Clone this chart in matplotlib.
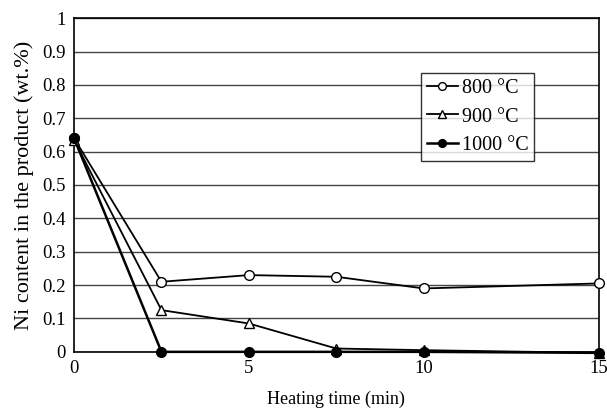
import matplotlib
matplotlib.use("Agg")
from matplotlib import pyplot as plt
import numpy as np

plt.rcParams['font.family'] = ['Liberation Serif', 'DejaVu Serif']

# データ
time_min = [0, 2.5, 5, 7.5, 10, 15]
ni_800 = [0.64, 0.21, 0.23, 0.225, 0.19, 0.205]
ni_900 = [0.635, 0.125, 0.085, 0.01, 0.005, -0.003]
ni_1000 = [0.64, 0.0, 0.0, 0.0, 0.0, -0.003]
labels = ["800 °C", "900 °C", "1000 °C"]

fig = plt.figure(figsize=(6.07, 4.12), dpi=100)
ax = fig.add_axes([0.122, 0.146, 0.864, 0.81])

ax.plot(time_min, ni_800, color="black", lw=1.3, marker="o", ms=7,
        mfc="white", mec="black", mew=1.0, label=labels[0], clip_on=False, zorder=3)
ax.plot(time_min, ni_900, color="black", lw=1.3, marker="^", ms=7,
        mfc="white", mec="black", mew=1.0, label=labels[1], clip_on=False, zorder=3)
ax.plot(time_min, ni_1000, color="black", lw=1.8, marker="o", ms=7,
        mfc="black", mec="black", label=labels[2], clip_on=False, zorder=3)

ax.set_xlim(0, 15)
ax.set_ylim(0, 1)
ax.set_xticks([0, 5, 10, 15])
ax.set_yticks(np.arange(0, 1.01, 0.1))
ax.set_yticklabels(["0", "0.1", "0.2", "0.3", "0.4", "0.5", "0.6", "0.7", "0.8", "0.9", "1"])
ax.tick_params(length=0, labelsize=13.5, pad=6)
ax.grid(axis="y", color="#444444", lw=1.0)
for s in ax.spines.values():
    s.set_linewidth(1.2)

ax.set_xlabel("Heating time (min)", fontsize=13, labelpad=10)
ax.set_ylabel("Ni content in the product (wt.%)", fontsize=16, labelpad=6)

leg = ax.legend(loc="upper left", bbox_to_anchor=(0.643, 0.865), fontsize=14.5,
                frameon=True, fancybox=False, edgecolor="black", handlelength=1.5,
                handletextpad=0.2, borderpad=0.3, labelspacing=0.45, markerscale=0.8)
leg.get_frame().set_linewidth(1.0)

fig.savefig("out.png", dpi=100)
